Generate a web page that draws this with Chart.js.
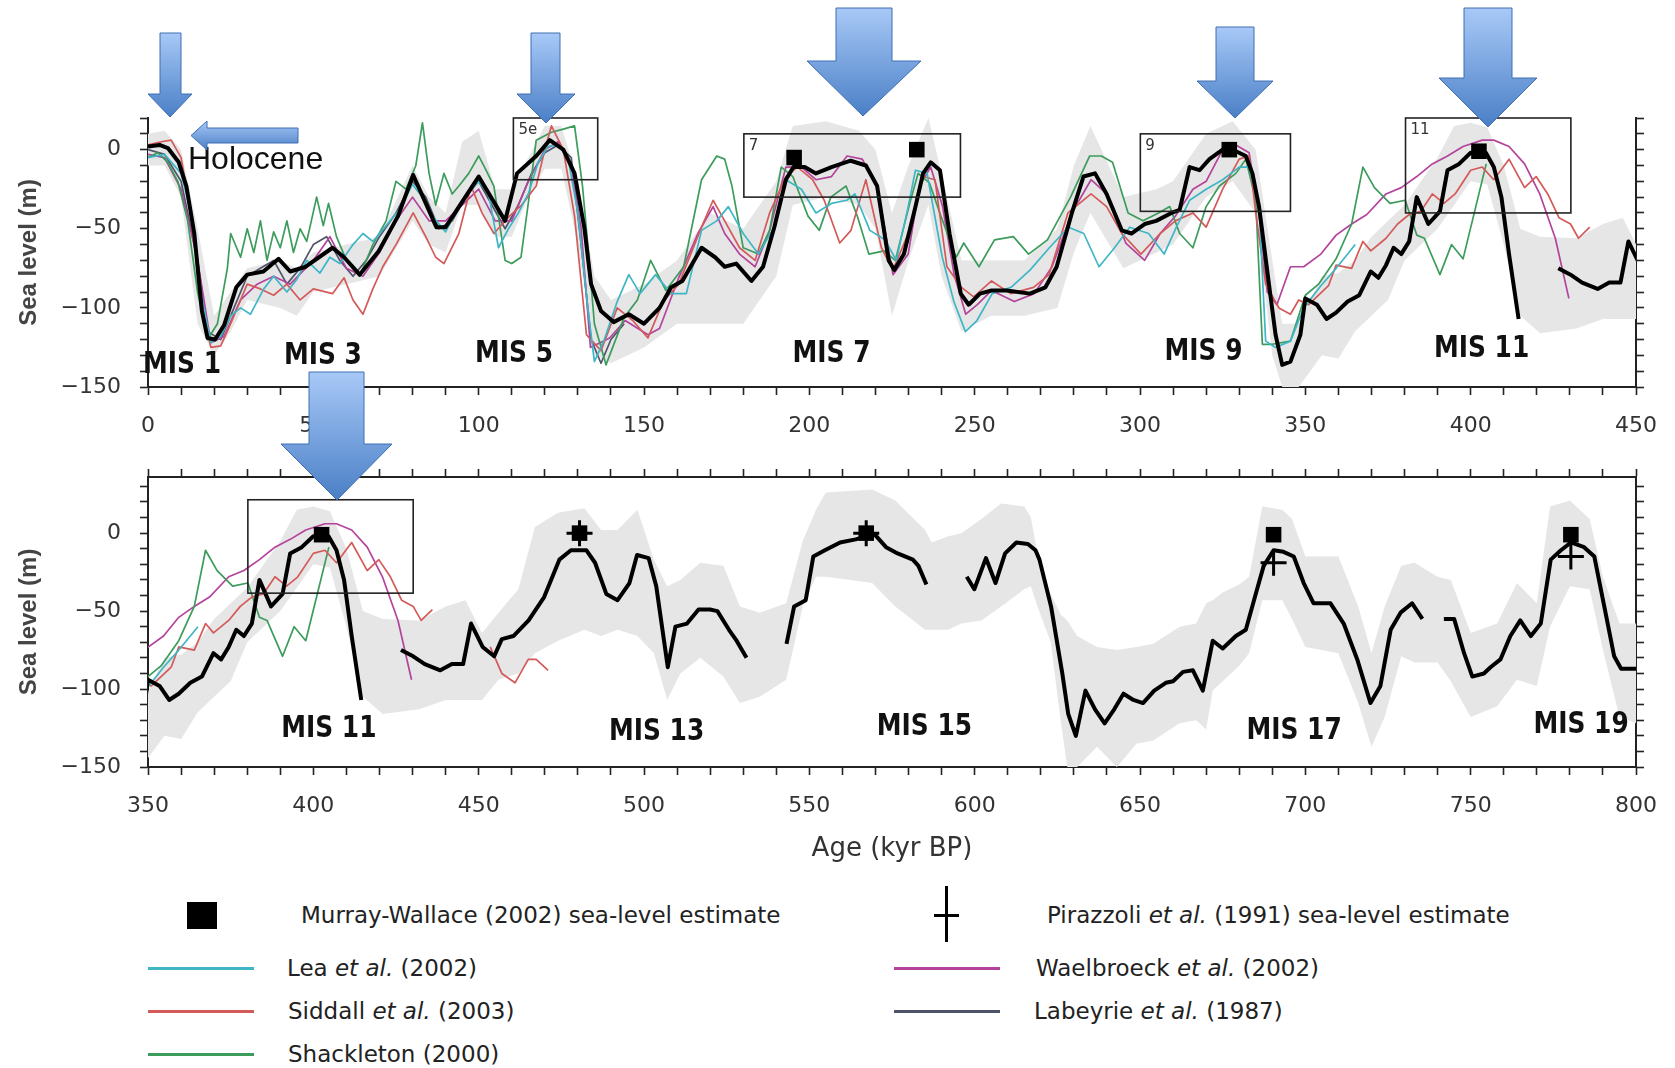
<!DOCTYPE html>
<html>
<head>
<meta charset="utf-8">
<title>Sea level reconstructions 0-800 kyr BP</title>
<script src="https://cdn.jsdelivr.net/npm/chart.js@4.4.1/dist/chart.umd.min.js"></script>
<style>
  html, body { margin: 0; padding: 0; background: #fff; }
  #page { position: relative; width: 1675px; height: 1068px; overflow: hidden; font-family: 'DejaVu Sans', sans-serif; color: #222; }
  #page canvas { position: absolute; left: 0; }
  #top-chart { top: 0; }
  #bottom-chart { top: 440px; }
  #arrows { position: absolute; left: 0; top: 0; pointer-events: none; }
  .holocene { position: absolute; left: 188px; top: 140px; font: 32px 'Liberation Sans', Arial, sans-serif; line-height: 36px; color: #111; }
  .lg-text { position: absolute; font-size: 23px; line-height: 26px; white-space: nowrap; color: #222; }
  .lg-line { position: absolute; height: 3px; }
  .lg-box { position: absolute; background: #000; }
</style>
</head>
<body>
<div id="page">
  <canvas id="top-chart" width="1675" height="440"></canvas>
  <canvas id="bottom-chart" width="1675" height="430"></canvas>
  <div class="holocene">Holocene</div>
  <div id="legend"></div>
  <svg id="arrows" width="1675" height="1068">
    <defs>
      <linearGradient id="blue" x1="0" y1="0" x2="0" y2="1">
        <stop offset="0" stop-color="#a8c9f7"/>
        <stop offset="1" stop-color="#4a7fc6"/>
      </linearGradient>
    </defs>
    <g fill="url(#blue)" stroke="#3f6fb3" stroke-width="1">
      <polygon points="160,33 181,33 181,94 192,94 170,117 148,94 160,94"/>
      <polygon points="531,33 560,33 560,94 575,94 546,123 517,94 531,94"/>
      <polygon points="836,8 892,8 892,61 921,61 863,116 807,61 836,61"/>
      <polygon points="1216,27 1254,27 1254,81 1273,81 1235,118 1197,81 1216,81"/>
      <polygon points="1464,8 1512,8 1512,78 1537,78 1488,127 1439,78 1464,78"/>
      <polygon points="309,372 364,372 364,444 392,444 337,500 281,444 309,444"/>
      <polygon points="298,128 298,143 207,143 207,150 191,135.5 207,121 207,128"/>
    </g>
  </svg>
</div>

<script>
/* ============================================
   Sea level reconstructions, 0-800 kyr BP
   ============================================ */

// --- Data: [age kyr BP, sea level m] ---

// main (black) composite curve, in segments
const mainSegA = [[0,2],[3.5,3],[6,1],[9.3,-8],[11.6,-23],[14,-53],[16.3,-102],[18,-119],[20.3,-120],[23,-111],[26.7,-87],[30,-79],[34.9,-77],[39.5,-69],[43,-77],[47.7,-74],[55.8,-62],[59.3,-68],[64,-79],[69.8,-64],[75.6,-42],[80.2,-16],[87.2,-49],[90,-49],[100,-17],[108,-45],[111.6,-15],[117.4,-4],[121.5,6],[125.6,0],[129,-15],[132,-50],[134,-85],[137,-102],[140.8,-109],[145.4,-104],[150,-110],[154.7,-100],[158.2,-87],[161.6,-83],[167.4,-62],[171.5,-68],[174.4,-74],[177.9,-72],[182.5,-83],[186,-74],[189.4,-49],[192.9,-19],[195.2,-11],[198.6,-11],[202,-15],[206.7,-11],[212.5,-7],[217.1,-10],[220.5,-23],[224,-70],[225.7,-76],[228.6,-66],[232.1,-36],[234.4,-15],[236.7,-8],[239.5,-13],[242.4,-53],[245.8,-91],[248.2,-98],[251.6,-91],[255.1,-89],[259.7,-89],[266.7,-91],[271.4,-87],[274.8,-74],[279.4,-40],[282.9,-17],[286.4,-15],[289.9,-28],[294.5,-51],[297.4,-53],[301.4,-47],[304.9,-45],[309.5,-40],[312,-38],[315,-11],[318,-13],[321,-6],[325,0],[329,-1],[332,-4],[334,-15],[336,-36],[339,-85],[341,-117],[343,-136],[345.5,-134],[348.5,-117],[350,-94],[353.5,-98],[356.4,-107],[359.3,-103],[362.8,-96],[366.3,-92],[369.8,-77],[372.1,-81],[374.4,-73],[376.7,-62],[379,-66],[381.4,-58],[383.7,-30],[387.2,-47],[390.7,-39],[393,-13],[396.5,-9],[400,-2],[404.6,-2],[407,-11],[409.3,-30],[411.6,-66],[414.5,-107]];
const mainSegB = [[426.5,-75],[430.2,-79],[433.7,-84],[438.4,-88],[441.9,-84],[445.3,-84],[447.7,-58],[451.2,-73],[454.7,-79],[457,-68],[460.5,-66],[465.1,-56],[469.8,-41],[474.4,-17],[477.9,-11],[482.6,-11],[485.2,-19],[488.6,-39],[492,-43],[495.6,-32],[497.9,-14],[501.4,-16],[503.7,-34],[507.2,-86],[509.5,-60],[513,-58],[516.5,-49],[520,-49],[522.2,-50],[525.7,-62],[528,-69],[531,-80]];
const mainSegC = [[543.1,-71],[545.4,-47],[548.9,-43],[551.2,-15],[554.7,-11],[559.3,-6],[564,-4],[567.4,-2],[569.8,-1],[573.2,-9],[576.7,-13],[581.3,-17],[583,-21],[585.4,-33]];
const mainSegD = [[597.6,-28],[599.9,-36],[603.4,-16],[606.3,-32],[609.2,-13],[612.6,-6],[616.1,-7],[618.4,-11],[619.6,-17],[623.1,-47],[626.5,-90],[628.3,-116],[630.6,-130],[633.5,-101],[636.4,-113],[639.3,-122],[642.2,-113],[645,-103],[648,-107],[650.9,-109],[654.3,-101],[657.8,-96],[660,-95],[663,-89],[666,-88],[669,-101],[672,-69],[675,-74],[679,-66],[682,-62],[685,-39],[687.4,-21],[690.4,-11],[693.4,-12],[696.5,-15],[699.5,-32],[702.5,-45],[707.6,-45],[711.6,-58],[715.7,-81],[719.7,-109],[722.7,-98],[725.8,-62],[728.8,-51],[732.3,-45],[735.4,-55]];
const mainSegE = [[741.9,-55],[745,-55],[748,-77],[750.5,-92],[754,-90],[756,-86],[759,-81],[762,-66],[765,-56],[768.2,-66],[771.2,-58],[774.2,-17],[777.3,-11],[780.3,-6],[784.3,-9],[787.4,-15],[790.4,-47],[793.4,-79],[795.5,-87],[800,-87]];

// uncertainty envelope (grey band)
const bandAge  = [0,5,10,15,20,25,30,40,45,50,60,70,80,85,90,95,100,105,110,115,120,125,130,135,140,150,160,170,180,190,195,205,215,220,225,230,236,240,246,255,265,275,280,285,295,305,310,320,328,335,340,343,348,355,360,365,370,375,380,385,390,395,400,405,410,415,421,432,440,446,451,456,462,467,474,482,487,492,498,503,507,511,517,524,529,535,543,548,552,555,569,576,585,587,592,596,602,608,615,617,619,623,626,628,631,637,643,649,654,662,667,670,672,675,680,683,687,693,696,700,710,716,720,724,729,733,740,744,750,758,764,770,774,780,786,790,795,800];
const bandHigh = [10,12,0,-50,-105,-90,-75,-70,-75,-65,-60,-55,-10,-30,-40,5,12,-25,-25,-5,15,15,-20,-80,-95,-85,-70,-40,-50,-20,15,18,12,0,-40,-10,20,-15,-70,-70,-70,-50,-10,15,-30,-25,-20,10,18,0,-70,-110,-110,-80,-78,-70,-55,-45,-35,-20,-5,15,17,14,-10,-50,-55,-56,-47,-43,-64,-51,-36,4,13,16,2,2,15,-17,-34,-30,-19,-21,-47,-51,-45,-5,15,26,28,21,2,-6,-2,0,9,19,17,10,-13,-39,-52,-56,-66,-73,-75,-73,-71,-60,-58,-45,-43,-38,-33,-28,17,15,9,-15,-15,-47,-77,-47,-21,-19,-28,-30,-64,-58,-32,-45,17,21,9,-28,-58,-58];
const bandLow  = [-10,-10,-30,-110,-130,-115,-95,-100,-105,-90,-85,-80,-45,-60,-65,-35,-35,-55,-55,-30,-12,-12,-60,-130,-135,-125,-110,-110,-110,-80,-35,-30,-35,-50,-105,-70,-35,-80,-115,-105,-105,-100,-65,-40,-75,-65,-60,-30,-20,-40,-130,-150,-150,-130,-132,-115,-105,-95,-70,-60,-50,-35,-20,-22,-60,-105,-116,-113,-107,-107,-107,-94,-90,-77,-69,-62,-66,-62,-66,-77,-107,-90,-80,-92,-109,-105,-94,-47,-28,-28,-32,-47,-62,-62,-62,-58,-56,-47,-36,-34,-47,-70,-120,-150,-150,-137,-150,-135,-133,-122,-120,-126,-101,-95,-85,-77,-43,-43,-55,-73,-77,-109,-137,-118,-79,-83,-83,-95,-118,-111,-94,-98,-60,-34,-36,-75,-118,-122];

const leaLevels = [[0,-5],[5,-3],[10,-15],[13,-40],[16,-90],[19,-122],[22,-118],[25,-105],[28,-100],[31,-104],[35,-88],[38,-80],[42,-90],[45,-82],[48,-70],[52,-78],[55,-68],[58,-72],[62,-60],[65,-53],[68,-58],[72,-48],[76,-38],[80,-22],[83,-30],[86,-42],[90,-52],[93,-40],[96,-30],[100,-20],[103,-28],[106,-62],[109,-50],[112,-40],[115,-28],[118,-8],[121,2],[124,3],[127,-5],[130,-40],[133,-100],[135,-134],[138,-120],[141.9,-96],[145.4,-79],[148.8,-91],[153.5,-79],[158.2,-91],[162.8,-91],[167.4,-51],[172,-45],[175.5,-36],[180,-53],[184.6,-66],[189.4,-49],[192.9,-19],[197.6,-25],[202,-40],[206.7,-34],[211.3,-32],[213.8,-28],[218.3,-51],[222.9,-57],[226.3,-70],[229.9,-36],[232.1,-13],[235.6,-15],[240.2,-68],[243.7,-96],[247.2,-115],[250.7,-108],[255.3,-91],[261,-87],[266.8,-76],[272.6,-62],[278.4,-49],[283,-53],[287.6,-74],[292.3,-62],[296.9,-49],[302.6,-53],[307.3,-66],[311,-49],[315,-32],[320,-25],[325,-19],[330,-11],[333,-11],[336,-36],[338,-121],[341,-125],[345.5,-121],[349.5,-100],[354.7,-86],[359.3,-75],[362.8,-66],[365.1,-60]];

const siddallLevels = [[0,3],[4,5],[7,6],[10,-5],[13,-40],[16,-95],[19,-125],[22,-124],[25,-110],[28,-95],[30,-85],[34,-88],[38,-92],[42,-85],[46,-95],[50,-88],[55.8,-91],[59.3,-81],[62,-95],[65,-104],[68,-88],[71,-74],[75,-60],[80.2,-40],[84,-55],[87,-68],[89.5,-72],[94,-53],[97.7,-23],[101,-40],[104.6,-53],[109.3,-42],[113,-35],[117.4,-23],[120,0],[122,15],[125.6,0],[129,-42],[132.6,-117],[137,-127],[141.9,-100],[146.6,-108],[151.2,-119],[155.8,-96],[160.5,-85],[167.4,-49],[170.9,-32],[174.4,-45],[178.9,-62],[183.6,-70],[188,-40],[192.9,-17],[196.4,-11],[201,-19],[204.5,-32],[209.2,-59],[212.6,-51],[217.1,-19],[221.8,-62],[225.3,-76],[229.9,-53],[234.4,-17],[238,-19],[241.6,-74],[246,-87],[249.7,-93],[255.1,-83],[260.9,-91],[267.8,-87],[272.5,-79],[278.2,-40],[285.2,-28],[289.9,-36],[294.5,-53],[300.3,-66],[306.1,-53],[310.7,-45],[316,-40],[320,-49],[325,-25],[330,-6],[333,-4],[335,-40],[338,-85],[342,-100],[345.5,-104],[348,-95],[351,-98],[357,-86],[359.3,-73],[364,-75],[367.4,-58],[369.8,-64],[374.4,-56],[377.9,-47],[381.4,-41],[384.9,-39],[388.4,-28],[391.9,-34],[395.3,-28],[400,-13],[403.5,-11],[407,-19],[411.6,-6],[416.3,-24],[419.8,-17],[423.3,-28],[426.7,-43],[430.2,-47],[432.6,-56],[436,-49]];
const siddallLate = [[453.5,-73],[457,-90],[461,-96],[465,-81],[467.4,-81],[471,-88]];

const shackletonLevels = [[0,-5],[3,-2],[6,-8],[9,-20],[12,-45],[15,-90],[18,-120],[21,-110],[24,-75],[25,-53],[28,-68],[30,-50],[32,-65],[34,-45],[36,-70],[38,-52],[40,-62],[42,-45],[44,-65],[46,-50],[48,-58],[51,-30],[53,-48],[54.6,-34],[57,-55],[60,-70],[64,-80],[68,-60],[72,-45],[75,-20],[78,-25],[81,-10],[83,17],[85,-15],[87,-35],[89.5,-15],[92,-28],[94,-23],[97,-15],[100,-4],[102,-12],[104.6,-23],[108,-70],[110,-72],[112.8,-68],[115,-34],[117.4,6],[122,11],[125.6,13],[129,15],[131.4,-23],[133,-60],[135,-110],[138.5,-136],[144,-106],[148,-95],[152,-70],[156.6,-89],[162,-74],[167.4,-19],[172,-4],[174.4,-6],[176.6,-23],[180,-62],[184.6,-66],[188,-51],[191.5,-11],[195,-17],[199.6,-42],[203,-51],[206.5,-30],[211.1,-23],[214.5,-42],[218,-66],[222.6,-64],[226,-70],[230.6,-32],[232.9,-15],[236.3,-21],[239.8,-42],[244.4,-68],[246.7,-59],[251.3,-74],[256,-57],[261.7,-55],[266.3,-66],[272,-57],[279,-30],[284.8,-4],[288.3,-4],[291.7,-8],[296.4,-40],[300.9,-45],[305.6,-40],[309,-36],[312,-53],[316,-62],[320,-36],[324,-23],[329,-15],[332,-6],[335,-32],[337,-123],[340,-123],[345.5,-121],[350,-92],[354,-85],[359.3,-69],[364,-47],[367.4,-11],[370.9,-24],[375.6,-34],[380.2,-32],[383.7,-54],[386,-56],[390.7,-79],[394.2,-60],[397.7,-69],[401.2,-39],[404.7,-9]];

const waelbroeckLevels = [[0,-3],[5,-5],[10,-25],[15,-70],[19,-122],[23,-118],[28,-95],[33,-85],[38,-80],[43,-85],[50,-70],[55,-55],[60,-75],[65,-80],[70,-65],[75,-45],[80,-30],[85,-45],[90,-45],[95,-35],[100,-25],[105,-45],[110,-45],[115,-20],[120,0],[124,5],[128,-10],[131,-50],[133.8,-125],[139.6,-119],[144.3,-108],[151.2,-117],[154.7,-113],[160.5,-81],[166.3,-53],[170.9,-36],[174.4,-53],[178.9,-66],[183.6,-74],[188,-51],[192.9,-11],[197.6,-11],[202,-19],[206.7,-17],[211.4,-4],[216,-6],[220.5,-23],[225.3,-79],[229.9,-66],[233.3,-23],[236.7,-11],[240.3,-36],[243.8,-79],[247.3,-104],[250.8,-98],[255.1,-89],[262,-96],[268,-91],[273.4,-74],[279.4,-40],[285.2,-19],[289.9,-28],[295.7,-59],[301.4,-70],[306.1,-53],[310.7,-42],[316,-25],[320,-20],[325,0],[329,3],[333,-2],[336,-40],[338.5,-90],[341.4,-98],[345.5,-74],[349.5,-74],[354.7,-66],[359.3,-54],[364,-47],[368.6,-41],[374.4,-28],[379,-24],[383.7,-17],[388.4,-9],[393,-4],[397.7,2],[403.5,6],[407,6],[411.6,2],[416.3,-9],[420.9,-28],[425.6,-56],[429.7,-94]];

const labeyrieLevels = [[0,0],[5,-3],[10,-20],[15,-70],[18,-115],[22,-120],[26,-100],[30,-80],[34,-75],[38,-70],[42,-85],[46,-75],[50,-60],[54,-55],[58,-70],[62,-80],[66,-70],[70,-55],[75,-40],[80,-20],[84,-30],[88,-50],[92,-45],[96,-30],[100,-20],[104,-35],[108,-50],[112,-35],[116,-15],[120,-2],[124,3],[128,-5],[131,-60],[134,-120],[137,-135],[140,-120],[144,-110]];

// point estimates
const murrayWallace = [[195.4,-5],[232.5,0],[327,0],[402.5,-1],[480.5,0],[567.2,0],[690.4,-1],[780.3,-1]];
const pirazzoli = [[480.5,0],[567.2,0],[690.4,-19],[780.3,-15]];

// interglacial boxes [from, to, top, bottom, label] and stage labels [age, level, text]
const topBoxes = [[110.5,136,20,-19,'5e'],[180.2,245.7,10,-30,'7'],[300.1,345.5,10,-39,'9'],[380.3,430.3,20,-40,'11']];
const bottomBoxes = [[380.2,430.2,21.4,-38.5,'']];
const topStages = [[10.3,-136,'MIS 1'],[52.9,-130.5,'MIS 3'],[110.7,-129,'MIS 5'],[206.7,-129,'MIS 7'],[319.2,-127.7,'MIS 9'],[403.3,-126.4,'MIS 11']];
const bottomStages = [[404.7,-126,'MIS 11'],[503.8,-128,'MIS 13'],[584.8,-124.6,'MIS 15'],[696.6,-127,'MIS 17'],[783.4,-123,'MIS 19']];

// --- Styling ---
const records = [
  { name: 'Lea <i>et al.</i> (2002)', color: '#3fb6c6', parts: [leaLevels] },
  { name: 'Siddall <i>et al.</i> (2003)', color: '#d45a5a', parts: [siddallLevels, siddallLate] },
  { name: 'Shackleton (2000)', color: '#3c9c5c', parts: [shackletonLevels] },
  { name: 'Waelbroeck <i>et al.</i> (2002)', color: '#b4439c', parts: [waelbroeckLevels] },
  { name: 'Labeyrie <i>et al.</i> (1987)', color: '#50546a', parts: [labeyrieLevels] }
];

const toXY = (pairs) => pairs.map(([x, y]) => ({ x, y }));
const minusSign = (v) => String(v).replace('-', '\u2212');

function buildDatasets() {
  const sets = [];
  sets.push({ data: toXY(murrayWallace), showLine: false, pointStyle: 'rect', pointRadius: 11,
    backgroundColor: '#000', borderWidth: 0, order: 0 });
  sets.push({ data: toXY(pirazzoli), showLine: false, pointStyle: 'cross', pointRadius: 13,
    borderColor: '#000', borderWidth: 3, order: 0 });
  [mainSegA, mainSegB, mainSegC, mainSegD, mainSegE].forEach(seg => {
    sets.push({ data: toXY(seg), borderColor: '#000', borderWidth: 4, pointRadius: 0, order: 1 });
  });
  records.forEach((r, i) => {
    r.parts.forEach(p => {
      sets.push({ data: toXY(p), borderColor: r.color, borderWidth: 1.7, pointRadius: 0, order: 2 + i });
    });
  });
  sets.push({ data: bandAge.map((a, i) => ({ x: a, y: bandHigh[i] })), borderWidth: 0, pointRadius: 0,
    fill: '+1', backgroundColor: '#e6e6e6', order: 20 });
  sets.push({ data: bandAge.map((a, i) => ({ x: a, y: bandLow[i] })), borderWidth: 0, pointRadius: 0,
    fill: false, order: 21 });
  return sets;
}

// boxes and stage labels drawn in data coordinates
function decorPlugin(boxes, stages) {
  return {
    id: 'decor',
    afterDatasetsDraw(chart) {
      const { ctx, scales: { x, y } } = chart;
      ctx.save();
      ctx.strokeStyle = '#222';
      ctx.lineWidth = 1.6;
      boxes.forEach(([from, to, top, bottom, label]) => {
        const l = x.getPixelForValue(from), r = x.getPixelForValue(to);
        const t = y.getPixelForValue(top), b = y.getPixelForValue(bottom);
        ctx.strokeRect(l, t, r - l, b - t);
        if (label) {
          ctx.font = '15px "DejaVu Sans"';
          ctx.fillStyle = '#333';
          ctx.textBaseline = 'top';
          ctx.fillText(label, l + 5, t + 5);
        }
      });
      // condensed bold stage labels
      ctx.font = 'bold 30px "DejaVu Sans"';
      ctx.fillStyle = '#111';
      ctx.textAlign = 'center';
      ctx.textBaseline = 'middle';
      stages.forEach(([age, level, text]) => {
        ctx.save();
        ctx.translate(x.getPixelForValue(age), y.getPixelForValue(level));
        ctx.scale(0.83, 1);
        ctx.fillText(text, 0, 0);
        ctx.restore();
      });
      ctx.restore();
    }
  };
}

const tickFont = { family: 'DejaVu Sans', size: 22 };
const axisBorder = { display: true, color: '#222', width: 2 };
const tickGrid = { drawOnChartArea: false, drawTicks: true, tickLength: 8, color: '#222', tickWidth: 1.6 };
const labelEvery50 = (v) => (v % 50 === 0 ? minusSign(v) : '');

function yAxis(min, max, side, withTitle) {
  return {
    type: 'linear', position: side, min, max,
    border: axisBorder, grid: tickGrid,
    ticks: { stepSize: 10, includeBounds: false, autoSkip: false, display: side === 'left',
      callback: labelEvery50, font: tickFont, color: '#333', padding: 19 },
    title: { display: withTitle, text: 'Sea level (m)', color: '#444',
      font: { family: 'Liberation Sans', size: 24, weight: 'bold' }, padding: { top: 15, bottom: 0 } },
    afterFit: (s) => { s.width = side === 'left' ? 148 : 38; }
  };
}

function xAxis(min, max, side, height, labels, title) {
  return {
    type: 'linear', position: side, min, max,
    border: axisBorder, grid: tickGrid,
    ticks: { stepSize: 10, autoSkip: false, maxRotation: 0, display: labels,
      callback: labelEvery50, font: tickFont, color: '#333', padding: 18 },
    title: { display: !!title, text: title || '', color: '#333',
      font: { family: 'DejaVu Sans', size: 26 }, padding: { top: 0, bottom: 5 } },
    afterFit: (s) => { s.height = height; }
  };
}

function makePanel(canvasId, scales, padTop, boxes, stages) {
  return new Chart(document.getElementById(canvasId), {
    type: 'line',
    data: { datasets: buildDatasets() },
    options: {
      responsive: false,
      devicePixelRatio: 1,
      animation: false,
      events: [],
      layout: { padding: { top: padTop, left: 0, right: 0, bottom: 0 } },
      elements: { line: { tension: 0, borderJoinStyle: 'round' } },
      scales,
      plugins: { legend: { display: false }, tooltip: { enabled: false } }
    },
    plugins: [decorPlugin(boxes, stages)]
  });
}

// --- Top panel: 0-450 kyr ---
makePanel('top-chart', {
  x: xAxis(0, 450, 'bottom', 53, true, ''),
  y: yAxis(-150, 20, 'left', true),
  yRight: yAxis(-150, 20, 'right', false)
}, 118, topBoxes, topStages);

// --- Bottom panel: 350-800 kyr ---
makePanel('bottom-chart', {
  x: xAxis(350, 800, 'bottom', 103, true, 'Age (kyr BP)'),
  xTop: xAxis(350, 800, 'top', 37, false, ''),
  y: yAxis(-150, 36, 'left', true),
  yRight: yAxis(-150, 36, 'right', false)
}, 0, bottomBoxes, bottomStages);

// --- Legend ---
const legend = document.getElementById('legend');
function addEl(cls, style, html) {
  const el = document.createElement('div');
  el.className = cls;
  Object.assign(el.style, style);
  if (html) el.innerHTML = html;
  legend.appendChild(el);
}

addEl('lg-box', { left: '187px', top: '902px', width: '30px', height: '27px' });
addEl('lg-text', { left: '301px', top: '902px' }, 'Murray-Wallace (2002) sea-level estimate');
addEl('lg-box', { left: '945px', top: '886px', width: '3px', height: '56px' });
addEl('lg-box', { left: '934px', top: '914px', width: '25px', height: '3px' });
addEl('lg-text', { left: '1047px', top: '902px' }, 'Pirazzoli <i>et al.</i> (1991) sea-level estimate');

const legendSlots = [
  { line: 148, text: 287, row: 968 },   // Lea
  { line: 148, text: 288, row: 1011 },  // Siddall
  { line: 148, text: 288, row: 1054 },  // Shackleton
  { line: 894, text: 1036, row: 968 },  // Waelbroeck
  { line: 894, text: 1034, row: 1011 }  // Labeyrie
];
records.forEach((r, i) => {
  const s = legendSlots[i];
  addEl('lg-line', { left: s.line + 'px', top: (s.row - 1.5) + 'px', width: '106px', background: r.color });
  addEl('lg-text', { left: s.text + 'px', top: (s.row - 13) + 'px' }, r.name);
});
</script>
</body>
</html>
